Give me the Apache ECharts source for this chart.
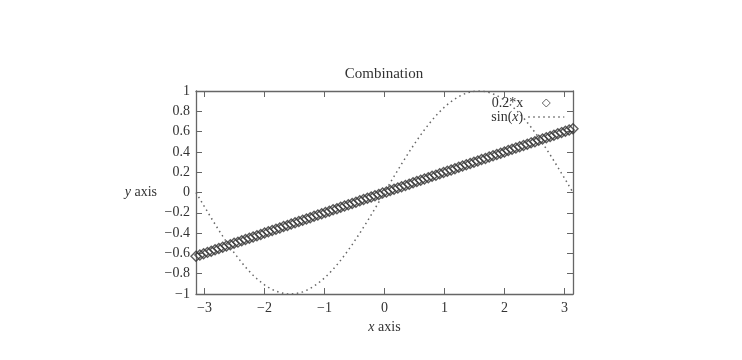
<!DOCTYPE html>
<html>
<head>
<meta charset="utf-8">
<script src="https://cdn.jsdelivr.net/npm/echarts@6/dist/echarts.min.js"></script>
<style>html,body{margin:0;padding:0;background:#fff}#chart{width:742px;height:360px}</style>
</head>
<body>
<div id="chart"></div>
<script>
// sample positions (100 samples over [-pi, pi])
var xs = [-3.142,-3.078,-3.015,-2.951,-2.888,-2.824,-2.761,-2.697,-2.634,-2.570,
  -2.507,-2.443,-2.380,-2.317,-2.253,-2.190,-2.126,-2.063,-1.999,-1.936,
  -1.872,-1.809,-1.745,-1.682,-1.618,-1.555,-1.491,-1.428,-1.364,-1.301,
  -1.238,-1.174,-1.111,-1.047,-0.984,-0.920,-0.857,-0.793,-0.730,-0.666,
  -0.603,-0.539,-0.476,-0.412,-0.349,-0.285,-0.222,-0.159,-0.095,-0.032,
  0.032,0.095,0.159,0.222,0.285,0.349,0.412,0.476,0.539,0.603,
  0.666,0.730,0.793,0.857,0.920,0.984,1.047,1.111,1.174,1.238,
  1.301,1.364,1.428,1.491,1.555,1.618,1.682,1.745,1.809,1.872,
  1.936,1.999,2.063,2.126,2.190,2.253,2.317,2.380,2.443,2.507,
  2.570,2.634,2.697,2.761,2.824,2.888,2.951,3.015,3.078,3.142];
// series "0.2*x"
var lineVals = [-0.628,-0.616,-0.603,-0.590,-0.578,-0.565,-0.552,-0.539,-0.527,-0.514,
  -0.501,-0.489,-0.476,-0.463,-0.451,-0.438,-0.425,-0.413,-0.400,-0.387,
  -0.374,-0.362,-0.349,-0.336,-0.324,-0.311,-0.298,-0.286,-0.273,-0.260,
  -0.248,-0.235,-0.222,-0.209,-0.197,-0.184,-0.171,-0.159,-0.146,-0.133,
  -0.121,-0.108,-0.095,-0.082,-0.070,-0.057,-0.044,-0.032,-0.019,-0.006,
  0.006,0.019,0.032,0.044,0.057,0.070,0.082,0.095,0.108,0.121,
  0.133,0.146,0.159,0.171,0.184,0.197,0.209,0.222,0.235,0.248,
  0.260,0.273,0.286,0.298,0.311,0.324,0.336,0.349,0.362,0.374,
  0.387,0.400,0.413,0.425,0.438,0.451,0.463,0.476,0.489,0.501,
  0.514,0.527,0.539,0.552,0.565,0.578,0.590,0.603,0.616,0.628];
// series "sin(x)"
var sinVals = [0.000,-0.063,-0.127,-0.189,-0.251,-0.312,-0.372,-0.430,-0.486,-0.541,
  -0.593,-0.643,-0.690,-0.735,-0.776,-0.815,-0.850,-0.881,-0.910,-0.934,
  -0.955,-0.972,-0.985,-0.994,-0.999,-1.000,-0.997,-0.990,-0.979,-0.964,
  -0.945,-0.922,-0.896,-0.866,-0.833,-0.796,-0.756,-0.713,-0.667,-0.618,
  -0.567,-0.514,-0.458,-0.401,-0.342,-0.282,-0.220,-0.158,-0.095,-0.032,
  0.032,0.095,0.158,0.220,0.282,0.342,0.401,0.458,0.514,0.567,
  0.618,0.667,0.713,0.756,0.796,0.833,0.866,0.896,0.922,0.945,
  0.964,0.979,0.990,0.997,1.000,0.999,0.994,0.985,0.972,0.955,
  0.934,0.910,0.881,0.850,0.815,0.776,0.735,0.690,0.643,0.593,
  0.541,0.486,0.430,0.372,0.312,0.251,0.189,0.127,0.063,0.000];
var xTicks = [-3, -2, -1, 0, 1, 2, 3];
var seriesNames = ['0.2*x', 'sin(x)'];
var titleText = 'Combination';

var FONT = '"Liberation Serif", "DejaVu Serif", serif';
var TXT = '#333333';
var AX = '#666666';
var FS = 14;
function minus(v) { return String(v).replace('-', '\u2212'); }
function pairs(a, b) { return a.map(function (v, i) { return [v, b[i]]; }); }

var axisLine = { show: true, onZero: false, lineStyle: { color: AX, width: 1.3 } };
var tick = { show: true, inside: true, length: 6, lineStyle: { color: AX, width: 1 } };
var italic = { fontFamily: FONT, fontSize: FS, fontStyle: 'italic', color: TXT };

var chart = echarts.init(document.getElementById('chart'));
chart.setOption({
  animation: false,
  backgroundColor: '#fff',
  title: {
    text: titleText, left: 384, top: 67, padding: 0, textAlign: 'center',
    textStyle: { fontFamily: FONT, fontSize: 15, fontWeight: 'normal', color: TXT }
  },
  legend: {
    orient: 'vertical', align: 'right', right: 177, top: 96, padding: 0,
    itemGap: 0, itemWidth: 36, itemHeight: 8, symbolKeepAspect: true,
    data: [
      { name: seriesNames[0], icon: 'path://M0,-1L1,0L0,1L-1,0Z',
        itemStyle: { color: 'rgba(255,255,255,0)', borderColor: '#444', borderWidth: 1 } },
      { name: seriesNames[1],
        itemStyle: { color: 'rgba(255,255,255,0)', borderWidth: 0, opacity: 0 },
        lineStyle: { color: '#666666', width: 1.5, type: [1.5, 3.5] } }
    ],
    formatter: function (n) { return n === 'sin(x)' ? 'sin({i|x})' : n; },
    textStyle: { fontFamily: FONT, fontSize: FS, color: TXT, lineHeight: 13,
      rich: { i: Object.assign({ lineHeight: 13 }, italic) } }
  },
  grid: { left: 196, right: 169, top: 91, bottom: 66, containLabel: false },
  xAxis: [{
    type: 'value', position: 'bottom', min: xs[0], max: xs[xs.length - 1],
    axisLine: axisLine,
    axisTick: Object.assign({ customValues: xTicks }, tick),
    axisLabel: { customValues: xTicks, formatter: minus, margin: 7,
      fontFamily: FONT, fontSize: FS, color: TXT },
    splitLine: { show: false },
    name: '{i|x} axis', nameLocation: 'middle', nameGap: 25,
    nameTextStyle: { fontFamily: FONT, fontSize: FS, color: TXT, rich: { i: italic } }
  }, {
    type: 'value', position: 'top', min: xs[0], max: xs[xs.length - 1],
    axisLine: axisLine,
    axisTick: Object.assign({ customValues: xTicks }, tick),
    axisLabel: { show: false }, splitLine: { show: false }
  }],
  yAxis: [{
    type: 'value', position: 'left', min: -1, max: 1, interval: 0.2,
    axisLine: axisLine, axisTick: tick,
    axisLabel: { formatter: minus, margin: 6, fontFamily: FONT, fontSize: FS, color: TXT },
    splitLine: { show: false },
    name: '{i|y} axis', nameLocation: 'middle', nameRotate: 0, nameGap: 39,
    nameTextStyle: { fontFamily: FONT, fontSize: FS, color: TXT, align: 'right', rich: { i: italic } }
  }, {
    type: 'value', position: 'right', min: -1, max: 1, interval: 0.2,
    axisLine: axisLine, axisTick: tick,
    axisLabel: { show: false }, splitLine: { show: false }
  }],
  series: [{
    name: seriesNames[0], type: 'scatter', xAxisIndex: 0, yAxisIndex: 0,
    data: pairs(xs, lineVals),
    symbol: 'diamond', symbolSize: 10,
    itemStyle: { color: 'rgba(255,255,255,0)', borderColor: '#333333', borderWidth: 1.4 }
  }, {
    name: seriesNames[1], type: 'line', xAxisIndex: 0, yAxisIndex: 0,
    data: pairs(xs, sinVals),
    symbol: 'none', showSymbol: false,
    lineStyle: { color: '#666666', width: 1.5, type: [1.5, 3.5] },
    itemStyle: { color: '#666666' }
  }]
});
</script>
</body>
</html>
